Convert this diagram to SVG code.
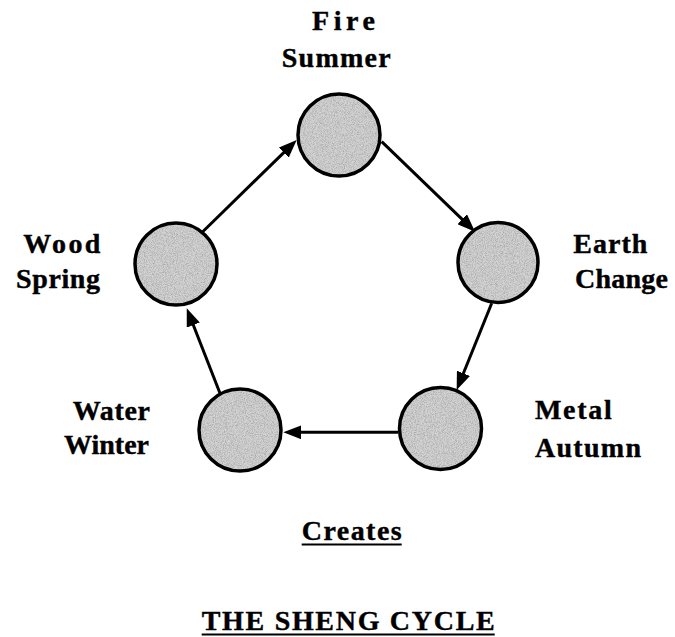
<svg xmlns="http://www.w3.org/2000/svg" width="675" height="637" viewBox="0 0 675 637">
  <style>
    .lbl { font-family: "Liberation Serif", "Times New Roman", serif; font-weight: bold; font-size: 28px; fill: #000; stroke: #000; stroke-width: 0.4; }
    .node { fill: #d2d2d2; stroke: #000; stroke-width: 3.5; }
    .tex { fill: #000; opacity: 0.2; filter: url(#stip); }
    .conn { stroke: #000; stroke-width: 3; fill: none; marker-end: url(#arrow); }
    .ul { stroke: #000; stroke-width: 2; }
  </style>
  <defs>
    <marker id="arrow" markerUnits="userSpaceOnUse" markerWidth="18" markerHeight="14" refX="11" refY="7" orient="auto">
      <path d="M0,0 L18,7 L0,14 z" fill="#000"/>
    </marker>
    <filter id="stip" x="0" y="0" width="100%" height="100%">
      <feTurbulence type="fractalNoise" baseFrequency="1.1" numOctaves="2" seed="4" result="t"/>
      <feColorMatrix in="t" type="matrix" values="0 0 0 0 0  0 0 0 0 0  0 0 0 0 0  0 0 0 -2.2 1.35" result="n"/>
      <feComposite in="n" in2="SourceGraphic" operator="in"/>
    </filter>
  </defs>

  <rect width="675" height="637" fill="#fff"/>

  <g id="connectors">
    <line class="conn" x1="202.7" y1="231.7" x2="291.7" y2="144.9"/>
    <line class="conn" x1="381.7" y1="141.7" x2="470" y2="226.8"/>
    <line class="conn" x1="491.7" y1="303.3" x2="459.3" y2="383.5"/>
    <line class="conn" x1="398.3" y1="432.3" x2="290.3" y2="432.3"/>
    <line class="conn" x1="220" y1="393.3" x2="189.3" y2="314.8"/>
  </g>

  <g id="fire">
    <circle class="node" cx="339" cy="135" r="41"/>
    <circle class="tex" cx="339" cy="135" r="39"/>
    <text class="lbl" x="312" y="29.5" textLength="63" lengthAdjust="spacing">Fire</text>
    <text class="lbl" x="281.7" y="66.7" textLength="109" lengthAdjust="spacing">Summer</text>
  </g>

  <g id="earth">
    <circle class="node" cx="498" cy="262.5" r="40"/>
    <circle class="tex" cx="498" cy="262.5" r="38"/>
    <text class="lbl" x="573.3" y="253.3" textLength="74" lengthAdjust="spacing">Earth</text>
    <text class="lbl" x="575" y="288.3" textLength="93" lengthAdjust="spacing">Change</text>
  </g>

  <g id="metal">
    <circle class="node" cx="440.5" cy="428.5" r="41"/>
    <circle class="tex" cx="440.5" cy="428.5" r="39"/>
    <text class="lbl" x="535" y="419" textLength="76.7" lengthAdjust="spacing">Metal</text>
    <text class="lbl" x="535" y="457" textLength="106" lengthAdjust="spacing">Autumn</text>
  </g>

  <g id="water">
    <circle class="node" cx="240" cy="430" r="41"/>
    <circle class="tex" cx="240" cy="430" r="39"/>
    <text class="lbl" x="72.7" y="420" textLength="77.3" lengthAdjust="spacing">Water</text>
    <text class="lbl" x="64" y="454">Winter</text>
  </g>

  <g id="wood">
    <circle class="node" cx="176" cy="264" r="41"/>
    <circle class="tex" cx="176" cy="264" r="39"/>
    <text class="lbl" x="23.3" y="253.3" textLength="77" lengthAdjust="spacing">Wood</text>
    <text class="lbl" x="16" y="288.3" textLength="84" lengthAdjust="spacing">Spring</text>
  </g>

  <g id="creates">
    <text class="lbl" x="301.7" y="540" textLength="100" lengthAdjust="spacing">Creates</text>
    <line class="ul" x1="301.7" y1="544.5" x2="401.7" y2="544.5"/>
  </g>

  <g id="title">
    <text class="lbl" x="201.7" y="630" textLength="293" lengthAdjust="spacing">THE SHENG CYCLE</text>
    <line class="ul" x1="201.7" y1="634.5" x2="494.7" y2="634.5"/>
  </g>
</svg>
